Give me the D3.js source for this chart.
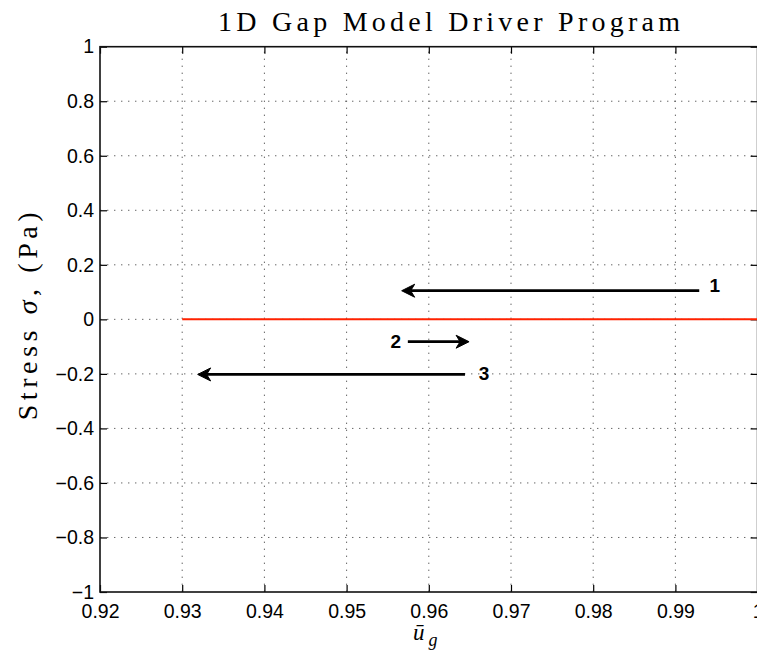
<!DOCTYPE html>
<html>
<head>
<meta charset="utf-8">
<script src="https://cdn.jsdelivr.net/npm/d3@7"></script>
<style>
  html, body { margin: 0; padding: 0; background: #fff; }
  svg { display: block; }
  .tick text { font-family: "Liberation Sans", Arial, Helvetica, sans-serif; font-size: 19.5px; fill: #000; }
</style>
</head>
<body>
<svg id="chart" width="757" height="651"></svg>
<script>
// Axis ticks
const xTicks = [0.92, 0.93, 0.94, 0.95, 0.96, 0.97, 0.98, 0.99, 1.00];
const xTickLabels = ["0.92", "0.93", "0.94", "0.95", "0.96", "0.97", "0.98", "0.99", "1"];
const yTicks = [-1, -0.8, -0.6, -0.4, -0.2, 0, 0.2, 0.4, 0.6, 0.8, 1];
const yTickLabels = ["\u22121", "\u22120.8", "\u22120.6", "\u22120.4", "\u22120.2", "0", "0.2", "0.4", "0.6", "0.8", "1"];

// Stress trace versus mean gap displacement
const stressX = [0.93, 0.945, 0.96, 0.975, 0.99, 1.00];
const stressY = [0, 0, 0, 0, 0, 0];

// Loading-path annotations (data coordinates)
const arrowNames = ["1", "2", "3"];
const arrowTailX = [0.9929, 0.95745, 0.9644];
const arrowTipX = [0.9567, 0.9649, 0.93188];
const arrowY = [0.105, -0.082, -0.202];
const arrowLabelX = [0.9948, 0.95598, 0.96672];
const arrowLabelY = [0.125, -0.079, -0.199];

const svg = d3.select("#chart");
const plotLeft = 100, plotRight = 757.6, plotTop = 46.7, plotBottom = 592;

const x = d3.scaleLinear().domain([0.92, 1.0]).range([plotLeft, plotRight]);
const y = d3.scaleLinear().domain([-1, 1]).range([plotBottom, plotTop]);

// Dotted grid
const grid = svg.append("g").attr("stroke", "#000").attr("stroke-width", 1)
  .attr("stroke-dasharray", "1.4 5.6").attr("opacity", 0.6);
grid.selectAll("line.gx").data(xTicks.slice(1, -1)).join("line")
  .attr("class", "gx")
  .attr("x1", d => x(d)).attr("x2", d => x(d))
  .attr("y1", plotBottom).attr("y2", plotTop);
grid.selectAll("line.gy").data(yTicks.slice(1, -1)).join("line")
  .attr("class", "gy")
  .attr("y1", d => y(d)).attr("y2", d => y(d))
  .attr("x1", plotLeft).attr("x2", plotRight);

// Axes with inward ticks
const xAxis = d3.axisBottom(x).tickValues(xTicks)
  .tickFormat((d, i) => xTickLabels[i]).tickSize(-7).tickPadding(12);
const yAxis = d3.axisLeft(y).tickValues(yTicks)
  .tickFormat((d, i) => yTickLabels[i]).tickSize(-7).tickPadding(6);
const xTop = d3.axisTop(x).tickValues(xTicks).tickFormat("").tickSize(-7);
const yRight = d3.axisRight(y).tickValues(yTicks).tickFormat("").tickSize(-7);

function styleAxis(g) {
  g.select(".domain").remove();
  g.selectAll(".tick line").attr("stroke", "#000").attr("stroke-width", 1.2);
  g.attr("font-family", null).attr("font-size", null);
}
svg.append("g").attr("transform", `translate(0,${plotBottom})`).call(xAxis).call(styleAxis);
svg.append("g").attr("transform", `translate(${plotLeft},0)`).call(yAxis).call(styleAxis);
svg.append("g").attr("transform", `translate(0,${plotTop})`).call(xTop).call(styleAxis);
svg.append("g").attr("transform", `translate(${plotRight},0)`).call(yRight).call(styleAxis);

// Axes box
svg.append("rect").attr("x", plotLeft).attr("y", plotTop)
  .attr("width", plotRight - plotLeft).attr("height", plotBottom - plotTop)
  .attr("fill", "none").attr("stroke", "#111").attr("stroke-width", 1.6);

// Stress line
const line = d3.line().x((d, i) => x(stressX[i])).y(d => y(d));
svg.append("path").datum(stressY).attr("d", line)
  .attr("fill", "none").attr("stroke", "#ff2200").attr("stroke-width", 2);

// Arrows
const headLen = 13, headHalf = 6.5, notch = 4;
const arrows = svg.append("g");
arrowNames.forEach((name, i) => {
  const x0 = x(arrowTailX[i]), x1 = x(arrowTipX[i]), yy = y(arrowY[i]);
  const dir = Math.sign(x1 - x0);
  arrows.append("line")
    .attr("x1", x0).attr("x2", x1 - dir * (headLen - notch))
    .attr("y1", yy).attr("y2", yy)
    .attr("stroke", "#000").attr("stroke-width", 2.7);
  arrows.append("path")
    .attr("d", `M${x1},${yy} L${x1 - dir * headLen},${yy - headHalf} L${x1 - dir * (headLen - notch)},${yy} L${x1 - dir * headLen},${yy + headHalf} Z`)
    .attr("fill", "#000").attr("stroke", "#000").attr("stroke-width", 1).attr("stroke-linejoin", "miter");
  arrows.append("text")
    .attr("x", x(arrowLabelX[i])).attr("y", y(arrowLabelY[i]))
    .attr("dy", "0.36em").attr("text-anchor", "middle")
    .attr("font-family", "Liberation Sans, Arial, Helvetica, sans-serif")
    .attr("font-weight", "bold").attr("font-size", 19)
    .text(name);
});

// Title
svg.append("text").attr("x", 449).attr("y", 31).attr("text-anchor", "middle")
  .attr("font-family", "Liberation Serif, Times New Roman, serif").attr("font-size", 28)
  .attr("textLength", 462).attr("lengthAdjust", "spacing")
  .text("1D Gap Model Driver Program");

// Y label
const yl = svg.append("text")
  .attr("transform", `translate(37,${(plotTop + plotBottom) / 2 - 3}) rotate(-90)`)
  .attr("text-anchor", "middle")
  .attr("font-family", "Liberation Serif, Times New Roman, serif").attr("font-size", 28)
  .attr("textLength", 208).attr("lengthAdjust", "spacing");
yl.append("tspan").text("Stress ");
yl.append("tspan").attr("font-style", "italic").text("\u03c3");
yl.append("tspan").text(", (Pa)");

// X label
const xl = svg.append("text").attr("x", 413).attr("y", 640).attr("text-anchor", "start")
  .attr("font-family", "Liberation Serif, Times New Roman, serif").attr("font-size", 23);
xl.append("tspan").attr("font-style", "italic").text("\u016b");
xl.append("tspan").attr("font-style", "italic").attr("font-size", 18).attr("dx", 4).attr("dy", 6).text("g");
</script>
</body>
</html>
